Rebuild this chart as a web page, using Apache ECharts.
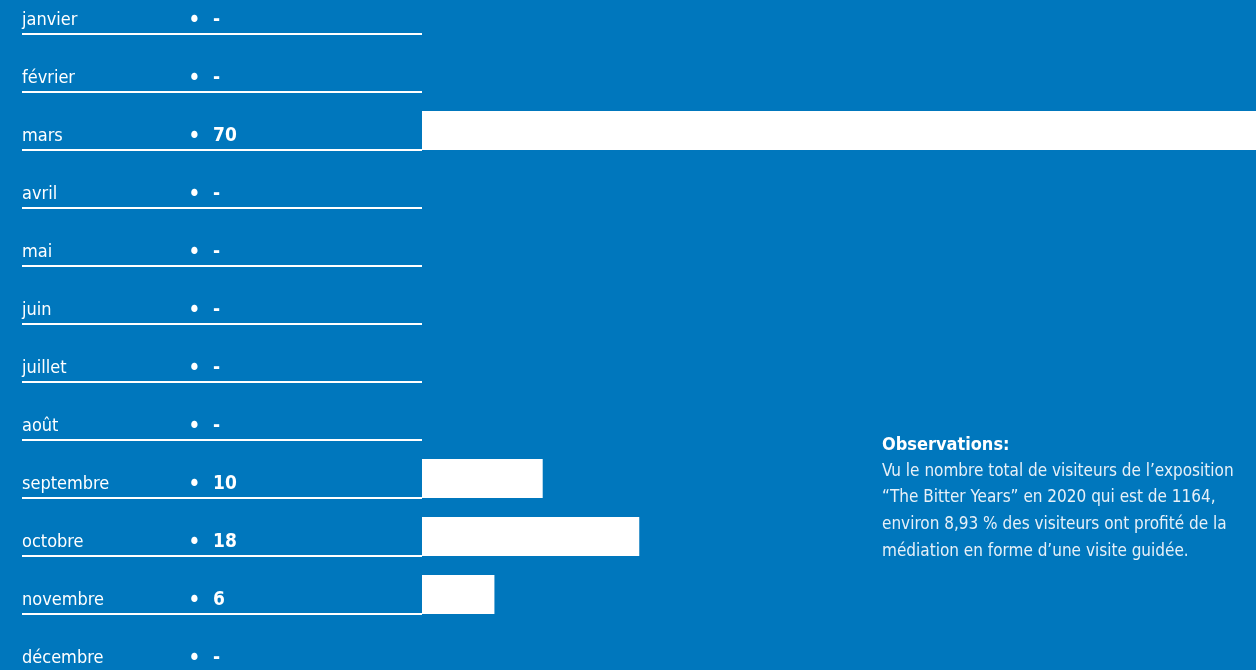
<!DOCTYPE html>
<html><head><meta charset="utf-8">
<script src="https://cdn.jsdelivr.net/npm/echarts@6/dist/echarts.min.js"></script>
<style>html,body{margin:0;padding:0;background:#0077bd;}#c{width:1256px;height:670px;}</style>
</head><body><div id="c"></div>
<script>
const months = ['janvier','février','mars','avril','mai','juin','juillet','août','septembre','octobre','novembre','décembre'];
const values = [0,0,70,0,0,0,0,0,10,18,6,0];
const noteTitle = 'Observations:';
const noteLines = [
  'Vu le nombre total de visiteurs de l’exposition',
  '“The Bitter Years” en 2020 qui est de 1164,',
  'environ 8,93 % des visiteurs ont profité de la',
  'médiation en forme d’une visite guidée.'
];
const FONT = "'Liberation Sans Narrow','DejaVu Sans Condensed','Arial Narrow',sans-serif";
const chart = echarts.init(document.getElementById('c'));
chart.setOption({
  backgroundColor: '#0077bd',
  animation: false,
  grid: {left: 422, top: -24, width: 1207, height: 696, containLabel: false, outerBoundsMode: 'none'},
  xAxis: {type: 'value', min: 0, max: 100, show: false},
  yAxis: {
    type: 'category', inverse: true, data: months,
    axisLine: {show: false},
    splitLine: {show: false},
    axisTick: {show: true, length: 400, lineStyle: {color: '#ffffff', width: 2}},
    axisLabel: {
      margin: 400, align: 'left', verticalAlign: 'middle',
      formatter: (val, idx) => '{m|' + val + '}{b|•}{v|' + (values[idx] ? values[idx] : '-') + '}',
      rich: {
        m: {fontFamily: FONT, fontSize: 18, color: '#ffffff', width: 166, padding: [30, 0, 0, 0]},
        b: {fontFamily: FONT, fontSize: 24, color: '#ffffff', width: 25, padding: [33, 0, 0, 0]},
        v: {fontFamily: FONT, fontSize: 19, fontWeight: 'bold', color: '#ffffff', padding: [30, 0, 0, 0]}
      }
    }
  },
  series: [{
    type: 'custom',
    data: values.map((v, i) => [v, i]),
    encode: {x: 0, y: 1},
    renderItem: function (params, api) {
      const v = api.value(0), idx = api.value(1);
      const end = api.coord([v, idx]);
      const start = api.coord([0, idx]);
      const band = api.size([0, 1])[1];
      const h = 39;
      const bottom = end[1] + band / 2;
      return {type: 'rect', shape: {x: start[0], y: bottom - h, width: end[0] - start[0], height: h}, style: {fill: '#ffffff'}};
    }
  }],
  graphic: [{
    type: 'text', left: 882, top: 436,
    style: {
      text: '{t|' + noteTitle + '}\n' + noteLines.map(l => '{p|' + l + '}').join('\n'),
      rich: {
        t: {fontFamily: FONT, fontSize: 18, fontWeight: 'bold', fill: '#ffffff', lineHeight: 26},
        p: {fontFamily: FONT, fontSize: 17, fill: '#e6f0f8', lineHeight: 26.7}
      }
    }
  }]
});
</script></body></html>
